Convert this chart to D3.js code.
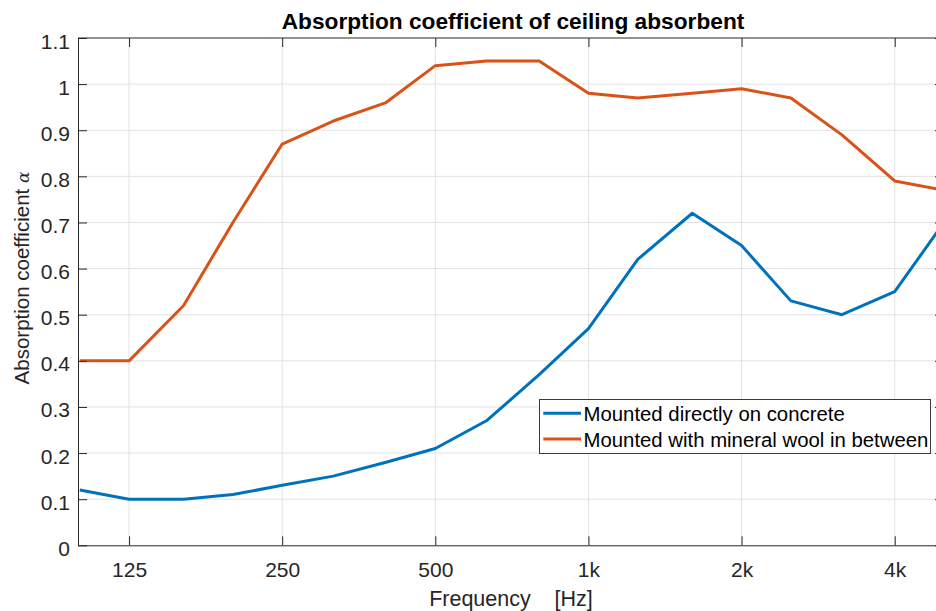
<!DOCTYPE html>
<html>
<head>
<meta charset="utf-8">
<script src="https://cdn.jsdelivr.net/npm/d3@7/dist/d3.min.js"></script>
<style>
  html, body { margin: 0; padding: 0; background: #ffffff; }
  svg { display: block; }
  text { font-family: "Liberation Sans", Arial, Helvetica, sans-serif; fill: #262626; }
</style>
</head>
<body>
<svg id="chart" width="936" height="611"></svg>
<script>
// ---- data ----
const frequencies = [100, 125, 160, 200, 250, 315, 400, 500, 630, 800, 1000, 1250, 1600, 2000, 2500, 3150, 4000, 5000];
const directOnConcrete = [0.12, 0.10, 0.10, 0.11, 0.13, 0.15, 0.18, 0.21, 0.27, 0.37, 0.47, 0.62, 0.72, 0.65, 0.53, 0.50, 0.55, 0.70];
const withMineralWool = [0.40, 0.40, 0.52, 0.70, 0.87, 0.92, 0.96, 1.04, 1.05, 1.05, 0.98, 0.97, 0.98, 0.99, 0.97, 0.89, 0.79, 0.77];
const xTickValues = [125, 250, 500, 1000, 2000, 4000];
const xTickLabels = ["125", "250", "500", "1k", "2k", "4k"];
const yTickValues = [0, 0.1, 0.2, 0.3, 0.4, 0.5, 0.6, 0.7, 0.8, 0.9, 1, 1.1];
const yTickLabels = ["0", "0.1", "0.2", "0.3", "0.4", "0.5", "0.6", "0.7", "0.8", "0.9", "1", "1.1"];
const seriesNames = ["Mounted directly on concrete", "Mounted with mineral wool in between"];
const seriesColors = ["#0072BD", "#D95319"];
const titleText = "Absorption coefficient of ceiling absorbent";
const xLabelText = "Frequency    [Hz]";
const yLabelText = "Absorption coefficient ";

// ---- layout ----
const pLeft = 78, pRight = 944, pTop = 38, pBottom = 545.3;
const svg = d3.select("#chart");
const axisColor = "#262626";
const gridColor = "#e2e2e2";

const x = d3.scaleLog().domain([99.2, 5000]).range([pLeft, pRight]);
const y = d3.scaleLinear().domain([0, 1.1]).range([pBottom, pTop]);

// grid
const grid = svg.append("g");
grid.selectAll("line.gx").data(xTickValues).join("line")
  .attr("x1", d => x(d)).attr("x2", d => x(d))
  .attr("y1", pTop).attr("y2", pBottom)
  .attr("stroke", gridColor).attr("stroke-width", 1);
grid.selectAll("line.gy").data(yTickValues.slice(1, -1)).join("line")
  .attr("x1", pLeft).attr("x2", pRight)
  .attr("y1", d => y(d)).attr("y2", d => y(d))
  .attr("stroke", gridColor).attr("stroke-width", 1);

// data lines
const seriesData = [directOnConcrete, withMineralWool];
const line = d3.line().x((d, i) => x(frequencies[i])).y(d => y(d));
svg.append("g").selectAll("path").data(seriesData).join("path")
  .attr("d", d => line(d))
  .attr("fill", "none")
  .attr("stroke", (d, i) => seriesColors[i])
  .attr("stroke-width", 3)
  .attr("stroke-linejoin", "round");

// axes via d3 axis generators
const tickLen = 9;
const xAxisBottom = d3.axisBottom(x).tickValues(xTickValues)
  .tickFormat((d, i) => xTickLabels[i]).tickSizeInner(-tickLen).tickSizeOuter(0).tickPadding(20);
const gxb = svg.append("g").attr("transform", `translate(0,${pBottom})`).call(xAxisBottom);
gxb.select(".domain").attr("stroke", axisColor).attr("d", `M${pLeft},0.5H${pRight}`);
gxb.selectAll(".tick line").attr("stroke", axisColor);
gxb.selectAll(".tick text").attr("font-size", 21).attr("fill", axisColor)
  .attr("font-family", "Liberation Sans, Arial, sans-serif").attr("dy", 0).attr("y", 31.4);

const xAxisTop = d3.axisTop(x).tickValues(xTickValues).tickFormat("")
  .tickSizeInner(-tickLen).tickSizeOuter(0);
const gxt = svg.append("g").attr("transform", `translate(0,${pTop})`).call(xAxisTop);
gxt.select(".domain").attr("stroke", axisColor).attr("d", `M${pLeft},0H${pRight}`);
gxt.selectAll(".tick line").attr("stroke", axisColor);

const yAxis = d3.axisLeft(y).tickValues(yTickValues)
  .tickFormat((d, i) => yTickLabels[i]).tickSizeInner(-tickLen).tickSizeOuter(0).tickPadding(8);
const gy = svg.append("g").attr("transform", `translate(${pLeft},0)`).call(yAxis);
gy.select(".domain").attr("stroke", axisColor).attr("d", `M0.5,${pTop}V${pBottom}`);
gy.selectAll(".tick line").attr("stroke", axisColor);
gy.selectAll(".tick text").attr("font-size", 21).attr("fill", axisColor)
  .attr("font-family", "Liberation Sans, Arial, sans-serif").attr("dy", 10).attr("x", -8);

const yAxisRight = d3.axisRight(y).tickValues(yTickValues).tickFormat("").tickSizeInner(-tickLen).tickSizeOuter(0);
const gyr = svg.append("g").attr("transform", `translate(${pRight},0)`).call(yAxisRight);
gyr.select(".domain").attr("stroke", axisColor).attr("d", `M0,${pTop}V${pBottom}`);
gyr.selectAll(".tick line").attr("stroke", axisColor);

// title
svg.append("text").attr("x", (pLeft + pRight) / 2 + 2).attr("y", 29.3)
  .attr("text-anchor", "middle").attr("font-size", 22.7).attr("font-weight", "bold")
  .style("fill", "#000").text(titleText);

// x label
svg.append("text").attr("x", (pLeft + pRight) / 2).attr("y", 606)
  .attr("text-anchor", "middle").attr("font-size", 21.5)
  .style("white-space", "pre").text(xLabelText);

// y label
const yl = svg.append("text")
  .attr("transform", `translate(28.5,278) rotate(-90)`)
  .attr("text-anchor", "middle").attr("font-size", 20.5);
yl.append("tspan").style("white-space", "pre").text(yLabelText);
yl.append("tspan").attr("font-family", "DejaVu Serif, Liberation Serif, serif")
  .attr("font-style", "italic").attr("font-size", 17).text("α");

// legend
const lg = svg.append("g");
lg.append("rect").attr("x", 539.5).attr("y", 399.5).attr("width", 391).attr("height", 54)
  .attr("fill", "#fff").attr("stroke", "#3a3a3a").attr("stroke-width", 1);
const rowsY = [413.3, 439];
seriesNames.forEach((name, i) => {
  lg.append("line").attr("x1", 543.3).attr("x2", 581).attr("y1", rowsY[i]).attr("y2", rowsY[i])
    .attr("stroke", seriesColors[i]).attr("stroke-width", 3);
  lg.append("text").attr("x", 583.5).attr("y", rowsY[i] + 7.7)
    .attr("font-size", 20.35).style("fill", "#000").text(name);
});
</script>
</body>
</html>
